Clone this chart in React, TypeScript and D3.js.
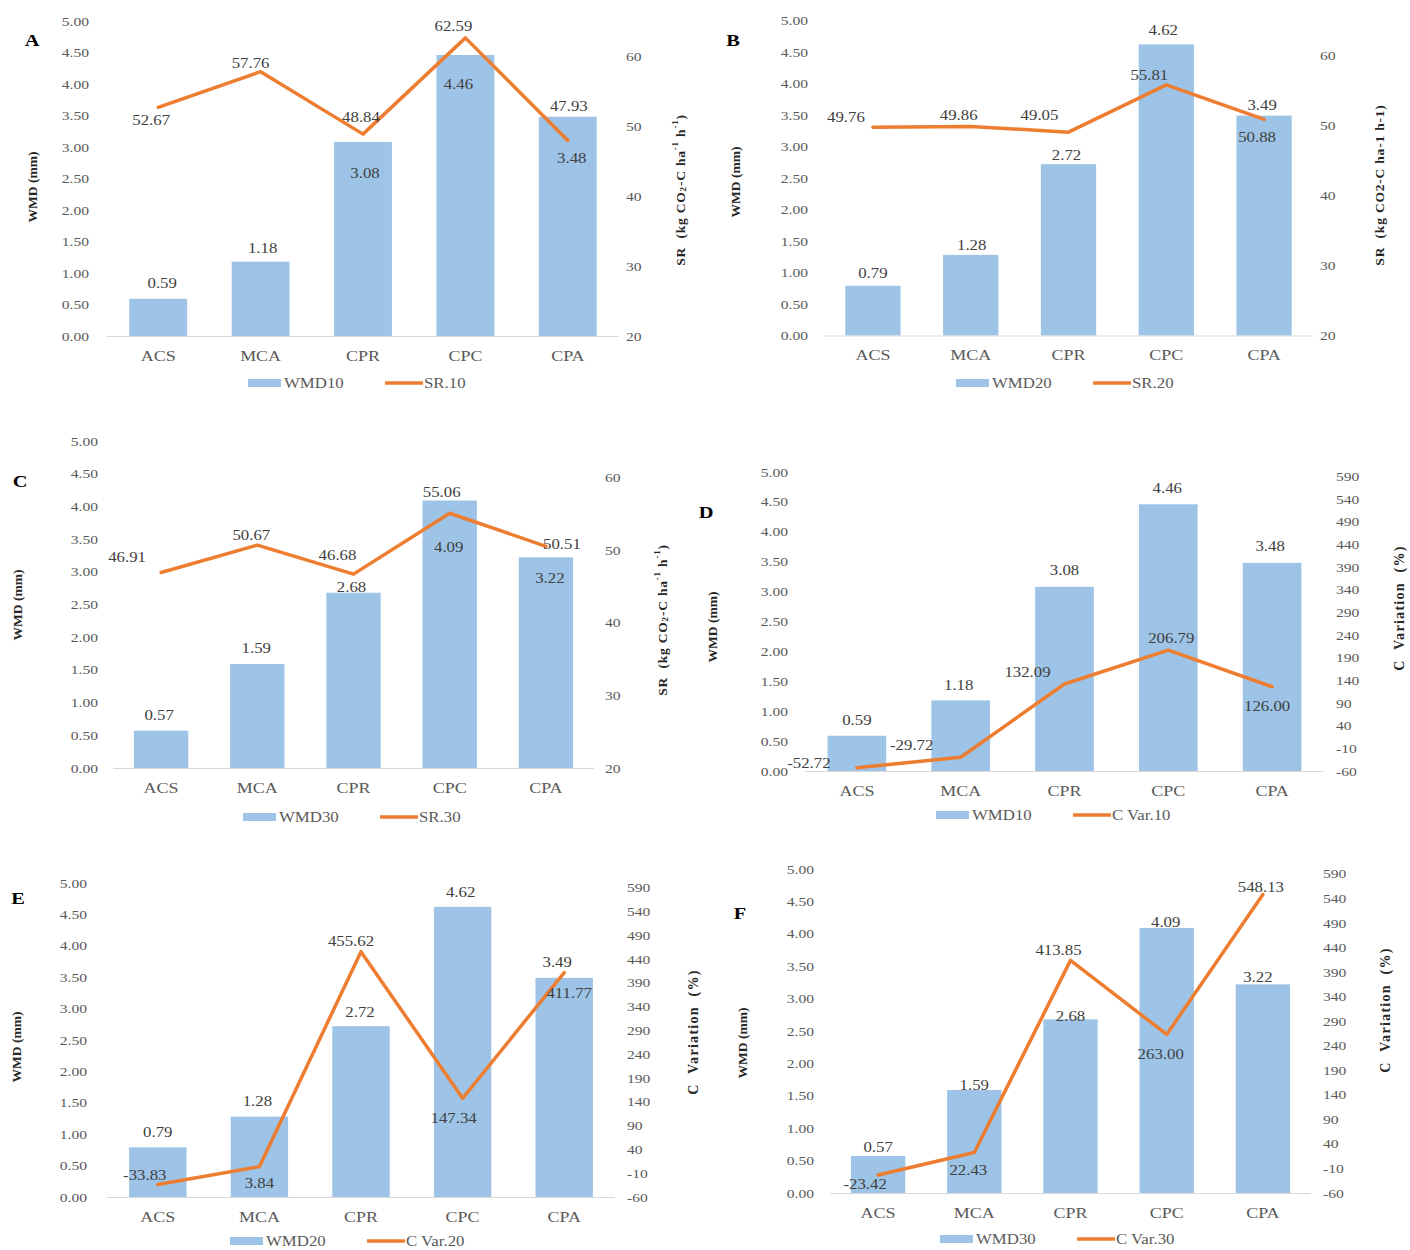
import React from "react";
import * as d3 from "d3";

const categories = ["ACS", "MCA", "CPR", "CPC", "CPA"];
const wmd10 = [0.59, 1.18, 3.08, 4.46, 3.48];
const wmd20 = [0.79, 1.28, 2.72, 4.62, 3.49];
const wmd30 = [0.57, 1.59, 2.68, 4.09, 3.22];
const sr10 = [52.67, 57.76, 48.84, 62.59, 47.93];
const sr20 = [49.76, 49.86, 49.05, 55.81, 50.88];
const sr30 = [46.91, 50.67, 46.68, 55.06, 50.51];
const cvar10 = [-52.72, -29.72, 132.09, 206.79, 126.0];
const cvar20 = [-33.83, 3.84, 455.62, 147.34, 411.77];
const cvar30 = [-23.42, 22.43, 413.85, 263.0, 548.13];
const wmdTicks = [0, 0.5, 1, 1.5, 2, 2.5, 3, 3.5, 4, 4.5, 5];
const srTicks = [20, 30, 40, 50, 60];
const cvarTicks = [-60, -10, 40, 90, 140, 190, 240, 290, 340, 390, 440, 490, 540, 590];
const srDomain = [20, 65];
const cvarDomain = [-60, 600];

const BAR = "#9DC3E6";
const LINE = "#ED7D31";
const FONT = "Liberation Serif, Times New Roman, serif";
const SX = 1.2;

type Layout = {
  x0: number; x1: number; yTop: number; yBot: number;
  letter: [number, number]; leftTitle: [number, number]; rightTitle: [number, number];
  leftLabelEnd: number; rightLabelStart: number; legend: [number, number];
  barDx: number[]; barDy: number[]; lineDx: number[]; lineDy: number[];
};

type PanelDef = {
  letter: string; bars: number[]; line: number[]; barName: string; lineName: string;
  kind: "sr" | "cvar"; srStyle?: "sub" | "plain"; lay: Layout;
};

const panels: PanelDef[] = [
  {
    letter: "A", bars: wmd10, line: sr10, barName: "WMD10", lineName: "SR.10", kind: "sr", srStyle: "sub",
    lay: {
      x0: 107, x1: 619, yTop: 21, yBot: 336, letter: [32, 40], leftTitle: [32, 187], rightTitle: [680, 190],
      leftLabelEnd: 89, rightLabelStart: 626, legend: [248, 383],
      barDx: [4, 2, 2, -7, 4], barDy: [-16, -14, 31, 29, 41],
      lineDx: [-7, -10, -2, -12, 1], lineDy: [13, -9, -17, -12, -34],
    },
  },
  {
    letter: "B", bars: wmd20, line: sr20, barName: "WMD20", lineName: "SR.20", kind: "sr", srStyle: "plain",
    lay: {
      x0: 824, x1: 1313, yTop: 20.5, yBot: 335.5, letter: [733, 40], leftTitle: [735, 182], rightTitle: [1379, 185],
      leftLabelEnd: 808, rightLabelStart: 1320, legend: [956, 383],
      barDx: [0, 1, -2, -3, -2], barDy: [-13, -10, -9, -14, -11],
      lineDx: [-27, -12, -29, -17, -7], lineDy: [-10, -11, -17, -10, 18],
    },
  },
  {
    letter: "C", bars: wmd30, line: sr30, barName: "WMD30", lineName: "SR.30", kind: "sr", srStyle: "sub",
    lay: {
      x0: 113, x1: 594, yTop: 441, yBot: 768, letter: [20, 481], leftTitle: [17, 605], rightTitle: [662, 620],
      leftLabelEnd: 98, rightLabelStart: 605, legend: [243, 817],
      barDx: [-2, -1, -2, -1, 4], barDy: [-16, -16, -6, 47, 21],
      lineDx: [-34, -6, -16, -8, 16], lineDy: [-15, -10, -19, -21, -2],
    },
  },
  {
    letter: "D", bars: wmd10, line: cvar10, barName: "WMD10", lineName: "C Var.10", kind: "cvar",
    lay: {
      x0: 805, x1: 1324, yTop: 472, yBot: 771, letter: [706, 512], leftTitle: [712, 627], rightTitle: [1399, 608],
      leftLabelEnd: 788, rightLabelStart: 1336, legend: [936, 815],
      barDx: [0, -2, 0, -1, -2], barDy: [-16, -15, -17, -16, -17],
      lineDx: [-48, -49, -37, 3, -5], lineDy: [-5, -12, -12, -12, 19],
    },
  },
  {
    letter: "E", bars: wmd20, line: cvar20, barName: "WMD20", lineName: "C Var.20", kind: "cvar",
    lay: {
      x0: 107, x1: 615, yTop: 883, yBot: 1197, letter: [18, 898], leftTitle: [16, 1047], rightTitle: [693, 1032],
      leftLabelEnd: 87, rightLabelStart: 627, legend: [230, 1241],
      barDx: [0, -2, -1, -2, -7], barDy: [-15, -16, -14, -15, -16],
      lineDx: [-13, 0, -10, -9, 5], lineDy: [-10, 16, -11, 20, 20],
    },
  },
  {
    letter: "F", bars: wmd30, line: cvar30, barName: "WMD30", lineName: "C Var.30", kind: "cvar",
    lay: {
      x0: 830, x1: 1311, yTop: 869, yBot: 1193, letter: [740, 913], leftTitle: [742, 1043], rightTitle: [1385, 1010],
      leftLabelEnd: 814, rightLabelStart: 1323, legend: [940, 1239],
      barDx: [0, 0, 0, -1, -5], barDy: [-9, -5, -3, -6, -7],
      lineDx: [-13, -6, -12, -6, -2], lineDy: [9, 17, -10, 20, -7],
    },
  },
];

const fmt2 = d3.format(".2f");
const fmt = (v: number) => fmt2(v).replace("\u2212", "-");

function T(props: {
  x: number; y: number; children: React.ReactNode; size?: number; anchor?: string;
  weight?: string | number; fill?: string;
}) {
  const { x, y, children, size = 13, anchor = "middle", weight = "normal", fill = "#595959" } = props;
  return (
    <text
      transform={`translate(${x},${y}) scale(${SX},1)`}
      textAnchor={anchor as any}
      dominantBaseline="central"
      fontFamily={FONT}
      fontSize={size}
      fontWeight={weight as any}
      fill={fill}
    >
      {children}
    </text>
  );
}

function RightTitle({ p }: { p: PanelDef }) {
  const [x, y] = p.lay.rightTitle;
  const common = {
    transform: `translate(${x},${y}) rotate(-90)`,
    textAnchor: "middle" as const,
    dominantBaseline: "central" as const,
    fontFamily: FONT,
    fontWeight: "bold" as const,
    fill: "#262626",
  };
  if (p.kind === "cvar") {
    return (
      <text {...common} fontSize={14} letterSpacing={1.3} style={{ whiteSpace: "pre" }}>
        {"C  Variation  (%)"}
      </text>
    );
  }
  if (p.srStyle === "plain") {
    return (
      <text {...common} fontSize={13.5} letterSpacing={0.8} style={{ whiteSpace: "pre" }}>
        {"SR  (kg CO2-C ha-1 h-1)"}
      </text>
    );
  }
  return (
    <text {...common} fontSize={13.5} letterSpacing={0.8} style={{ whiteSpace: "pre" }}>
      {"SR  (kg CO"}
      <tspan dy={3} fontSize={9}>2</tspan>
      <tspan dy={-3}>{"-C ha"}</tspan>
      <tspan dy={-5} fontSize={9}>-1</tspan>
      <tspan dy={5}>{" h"}</tspan>
      <tspan dy={-5} fontSize={9}>-1</tspan>
      <tspan dy={5}>)</tspan>
    </text>
  );
}

function Panel({ p }: { p: PanelDef }) {
  const L = p.lay;
  const x = d3.scaleBand<string>().domain(categories).range([L.x0, L.x1]).paddingInner(0.435).paddingOuter(0.2175);
  const bw = x.bandwidth();
  const cx = (c: string) => (x(c) as number) + bw / 2;
  const yL = d3.scaleLinear().domain([0, 5]).range([L.yBot, L.yTop]);
  const rDomain = p.kind === "sr" ? srDomain : cvarDomain;
  const rTicks = p.kind === "sr" ? srTicks : cvarTicks;
  const yR = d3.scaleLinear().domain(rDomain).range([L.yBot, L.yTop]);
  const lineGen = d3
    .line<number>()
    .x((_, i) => cx(categories[i]))
    .y((v) => yR(v));
  const [lx, ly] = L.legend;

  return (
    <g>
      {p.bars.map((v, i) => (
        <rect key={"b" + i} x={x(categories[i])} y={yL(v)} width={bw} height={yL(0) - yL(v)} fill={BAR} />
      ))}
      <line x1={L.x0} x2={L.x1} y1={L.yBot + 0.5} y2={L.yBot + 0.5} stroke="#D9D9D9" strokeWidth={1} />
      <path d={lineGen(p.line) || ""} fill="none" stroke={LINE} strokeWidth={3.5} strokeLinejoin="round" strokeLinecap="round" />
      {wmdTicks.map((t) => (
        <T key={"lt" + t} x={L.leftLabelEnd} y={yL(t)} anchor="end" size={13}>
          {fmt(t)}
        </T>
      ))}
      {rTicks.map((t) => (
        <T key={"rt" + t} x={L.rightLabelStart} y={yR(t)} anchor="start" size={13}>
          {String(t)}
        </T>
      ))}
      {categories.map((c) => (
        <T key={"c" + c} x={cx(c)} y={L.yBot + 20} size={15}>
          {c}
        </T>
      ))}
      {p.bars.map((v, i) => (
        <T key={"bl" + i} x={cx(categories[i]) + L.barDx[i]} y={yL(v) + L.barDy[i]} size={14} fill="#404040">
          {fmt(v)}
        </T>
      ))}
      {p.line.map((v, i) => (
        <T key={"ll" + i} x={cx(categories[i]) + L.lineDx[i]} y={yR(v) + L.lineDy[i]} size={14} fill="#404040">
          {fmt(v)}
        </T>
      ))}
      <text
        transform={`translate(${L.leftTitle[0]},${L.leftTitle[1]}) rotate(-90)`}
        textAnchor="middle"
        dominantBaseline="central"
        fontFamily={FONT}
        fontWeight="bold"
        fontSize={13.5}
        fill="#262626"
      >
        WMD (mm)
      </text>
      <RightTitle p={p} />
      <T x={L.letter[0]} y={L.letter[1]} size={17} weight="bold" fill="#000">
        {p.letter}
      </T>
      <rect x={lx} y={ly - 4} width={33} height={8} fill={BAR} />
      <T x={lx + 36} y={ly} anchor="start" size={14}>
        {p.barName}
      </T>
      <line x1={lx + 137} x2={lx + 175} y1={ly} y2={ly} stroke={LINE} strokeWidth={3.5} />
      <T x={lx + 176} y={ly} anchor="start" size={14}>
        {p.lineName}
      </T>
    </g>
  );
}

export default function App() {
  return (
    <svg
      width={1410}
      height={1250}
      style={{ position: "absolute", left: 0, top: 0, background: "#fff" }}
    >
      <rect width={1410} height={1250} fill="#fff" />
      {panels.map((p) => (
        <Panel key={p.letter} p={p} />
      ))}
    </svg>
  );
}
